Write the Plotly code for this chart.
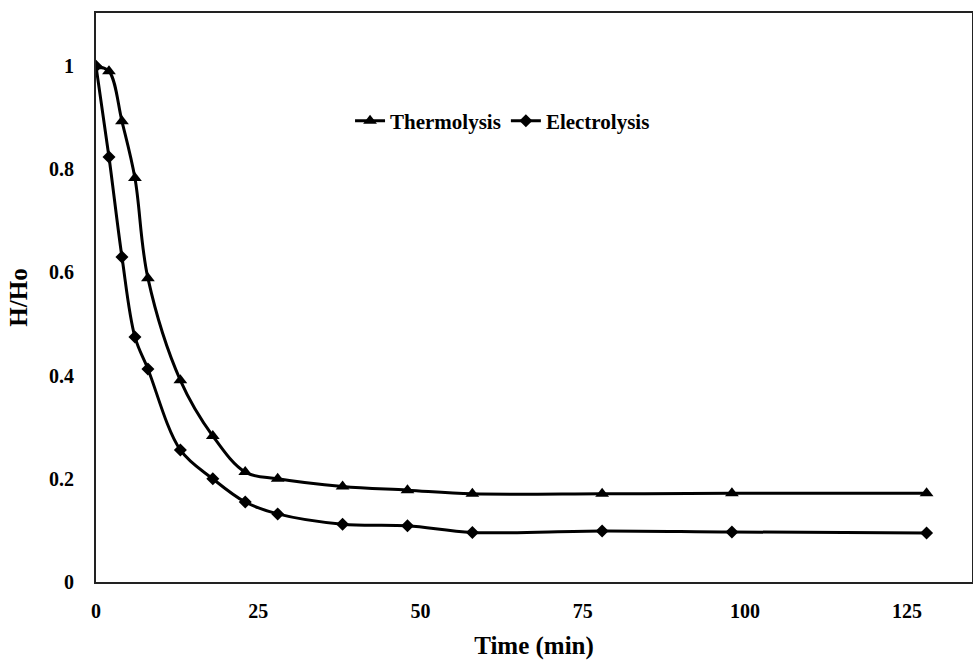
import plotly.graph_objects as go

time_min = [0, 2, 4, 6, 8, 13, 18, 23, 28, 38, 48, 58, 78, 98, 128]
thermolysis = [1.0, 0.99, 0.893, 0.783, 0.589, 0.391, 0.283, 0.213, 0.200, 0.185, 0.178, 0.171, 0.171, 0.172, 0.172]
electrolysis = [1.0, 0.824, 0.630, 0.475, 0.413, 0.256, 0.200, 0.155, 0.132, 0.112, 0.109, 0.096, 0.099, 0.097, 0.095]

x_ticks = [0, 25, 50, 75, 100, 125]
y_ticks = [0, 0.2, 0.4, 0.6, 0.8, 1]
y_tick_labels = ["0", "0.2", "0.4", "0.6", "0.8", "1"]

font_family = "Liberation Serif"

fig = go.Figure()
fig.add_trace(go.Scatter(
    x=time_min, y=thermolysis, name="<b>Thermolysis</b>",
    mode="lines+markers",
    line=dict(color="black", width=3, shape="spline", smoothing=1),
    marker=dict(symbol="triangle-up", size=12, color="black"),
))
fig.add_trace(go.Scatter(
    x=time_min, y=electrolysis, name="<b>Electrolysis</b>",
    mode="lines+markers",
    line=dict(color="black", width=3, shape="spline", smoothing=1),
    marker=dict(symbol="diamond", size=10, color="black"),
))

fig.update_layout(
    width=973, height=660,
    margin=dict(l=96, r=1, t=13, b=78),
    paper_bgcolor="white", plot_bgcolor="white",
    font=dict(family=font_family, color="black", size=20),
    legend=dict(
        orientation="h", x=0.29, y=0.81, xanchor="left", yanchor="middle",
        bgcolor="rgba(0,0,0,0)", font=dict(size=21, family=font_family),
        itemwidth=30, tracegroupgap=0,
    ),
    showlegend=True,
)
fig.update_xaxes(
    range=[0, 135], tickvals=x_ticks,
    ticktext=[f"<b>{v}</b>" for v in x_ticks],
    showgrid=False, zeroline=False, automargin=False,
    showline=True, linecolor="#222", linewidth=2, mirror=True,
    ticks="", ticklabelstandoff=10,
    title=dict(text="<b>Time (min)</b>", font=dict(size=25, family=font_family), standoff=17),
)
fig.update_yaxes(
    range=[0, 1.103], tickvals=y_ticks,
    ticktext=[f"<b>{t}</b>" for t in y_tick_labels],
    showgrid=False, zeroline=False, automargin=False,
    showline=True, linecolor="#222", linewidth=2, mirror=True,
    ticks="", ticklabelstandoff=16,
    title=dict(text="<b>H/Ho</b>", font=dict(size=25, family=font_family), standoff=14),
)

fig.write_html(
    "out.html",
    config={"displayModeBar": False},
    post_script="document.body.style.margin='0';document.body.style.overflow='hidden';",
)
